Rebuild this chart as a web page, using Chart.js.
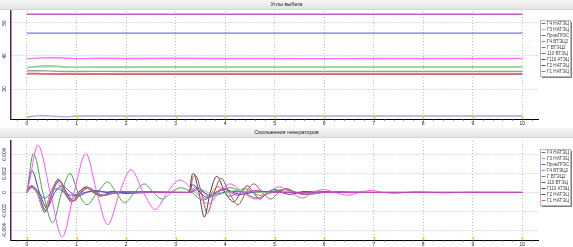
<!DOCTYPE html>
<html lang="ru">
<head>
<meta charset="UTF-8">
<title>Углы выбега / Скольжения генераторов</title>
<script src="https://cdn.jsdelivr.net/npm/chart.js"></script>
<style>
  html, body { margin: 0; padding: 0; background: #fff; }
  body { width: 573px; height: 247px; position: relative; overflow: hidden;
         font-family: "Liberation Sans", Arial, sans-serif; }
  .bar { position: absolute; left: 0; width: 573px; height: 9px;
         background: linear-gradient(#f6f6f6, #e4e4e4); border-bottom: 1px solid #d4d4d4;
         font-size: 5.5px; line-height: 9px; text-align: center; color: #222; }
  .box { position: absolute; left: 0; width: 573px; }
  canvas { display: block; }
</style>
</head>
<body>
<div class="bar" style="top:0">Углы выбега</div>
<div class="box" style="top:9px;height:119px"><canvas id="angles" width="573" height="119"></canvas></div>
<div class="bar" style="top:128px">Скольжения генераторов</div>
<div class="box" style="top:138px;height:109px"><canvas id="slips" width="573" height="109"></canvas></div>

<script>
// ---- data ----
const seriesNames  = ['Г4 НАТЭЦ', 'Г3 НАТЭЦ', 'ПримГРЭС', 'Г4 ВТЭЦ2', 'Г ВТЭЦ2', '110 ВТЭЦ', 'Г110 АТЭЦ', 'Г2 НАТЭЦ', 'Г1 НАТЭЦ'];
const seriesColors = ['#c040c0', '#78d878', '#5858e0', '#ff50ff', '#40a840', '#b84848', '#404040', '#3c3cb8', '#ff5a5a'];
// the angle plot draws the same series in lighter tones
const angleColors  = ['#c45ac4', '#98dc98', '#7474ec', '#ff72ff', '#7cbc7c', '#d06a6a', '#9c9c9c', '#a8a8dc', '#e07474'];

const xTicks = [0, 1, 2, 3, 4, 5, 6, 7, 8, 9, 10];
const yTicksAngle = [30, 40, 50];
const yTicksSlip  = [-0.004, -0.002, 0, 0.002, 0.004];
const ySlipLabels = ['-0.004', '-0.002', '0', '0.002', '0.004'];

// rotor angles, deg
const tAngle        = [0, 0.2, 0.4, 0.6, 0.8, 1, 1.5, 2, 3, 4, 5, 6, 7, 8, 9, 10];
const angleG4NATEC  = [52.6, 52.6, 52.6, 52.6, 52.6, 52.6, 52.6, 52.6, 52.6, 52.6, 52.6, 52.6, 52.6, 52.6, 52.6, 52.6];
const angleG3NATEC  = [36.5, 36.7, 36.8, 36.75, 36.65, 36.6, 36.65, 36.65, 36.65, 36.65, 36.65, 36.65, 36.65, 36.65, 36.65, 36.65];
const anglePrimGRES = [46.9, 46.9, 46.9, 46.9, 46.9, 46.9, 46.9, 46.9, 46.9, 46.9, 46.9, 46.9, 46.9, 46.9, 46.9, 46.9];
const angleG4VTEC2  = [39.2, 39.35, 39.45, 39.45, 39.3, 39.2, 39.3, 39.25, 39.3, 39.25, 39.25, 39.2, 39.25, 39.25, 39.25, 39.25];
const angleGVTEC2   = [36.45, 36.85, 37.0, 36.95, 36.6, 36.55, 36.6, 36.6, 36.62, 36.62, 36.62, 36.62, 36.62, 36.62, 36.62, 36.62];
const angle110VTEC  = [34.7, 34.7, 34.6, 34.55, 34.55, 34.55, 34.55, 34.55, 34.55, 34.55, 34.55, 34.55, 34.55, 34.55, 34.55, 34.55];
const angleG110ATEC = [35.55, 35.55, 35.5, 35.35, 35.3, 35.3, 35.35, 35.3, 35.3, 35.3, 35.3, 35.3, 35.3, 35.3, 35.3, 35.3];
const angleG2NATEC  = [21.55, 21.9, 21.95, 21.75, 21.6, 21.85, 21.85, 21.85, 21.85, 21.85, 21.85, 21.85, 21.85, 21.85, 21.85, 21.85];
const angleG1NATEC  = [34.6, 34.6, 34.55, 34.5, 34.5, 34.5, 34.5, 34.5, 34.5, 34.5, 34.5, 34.5, 34.5, 34.5, 34.5, 34.5];

// generator slips, [t, s]
const slipG4NATEC = [[0,0],[0.1,0.0006],[0.22,0],[0.38,-0.0019],[0.52,0],[0.65,0.0013],[0.79,0],[0.93,-0.0009],[1.08,0],[1.23,0.0005],[1.38,0],[1.55,-0.0003],[1.9,0.0001],[2.5,0],[3.3,0],[3.45,0.0005],[3.7,-0.0005],[3.95,0.0004],[4.25,-0.0003],[4.6,0.0002],[5,0],[10,0]];
const slipG3NATEC = [[0,0],[0.09,0.0006],[0.2,0],[0.36,-0.002],[0.5,0],[0.64,0.0013],[0.78,0],[0.92,-0.0009],[1.07,0],[1.22,0.0005],[1.37,0],[1.52,-0.0003],[1.9,0.0001],[2.5,0],[3.3,0],[3.5,0.0003],[3.8,-0.0003],[4.2,0.0002],[4.8,0],[10,0]];
const slipPrimGRES = [[0,0],[0.1,0.0007],[0.35,-0.0006],[0.6,0.0004],[0.9,-0.0003],[1.3,0.0001],[2,0],[3.3,0],[3.45,0.0003],[3.7,-0.0003],[4.1,0.0001],[5,0],[10,0]];
const slipG4VTEC2 = [[0,0],[0.05,0.0012],[0.22,0.005],[0.47,0],[0.71,-0.0047],[0.95,0],[1.19,0.0041],[1.41,0],[1.63,-0.0034],[1.87,0],[2.1,0.0024],[2.35,0],[2.59,-0.0018],[2.83,0],[3.08,0.0013],[3.4,0],[3.66,-0.0012],[3.88,0],[4.1,0.0009],[4.36,0],[4.62,-0.0007],[4.86,0],[5.1,0.0006],[5.33,0],[5.56,-0.0006],[5.77,0],[5.98,0.0003],[6.22,0],[6.47,-0.0003],[6.7,0],[6.95,0.0002],[7.2,0],[7.42,-0.0001],[7.65,0],[7.9,0.0001],[8.4,-0.00005],[8.9,0.00003],[10,0]];
const slipGVTEC2 = [[0,0],[0.13,0.0041],[0.32,0],[0.52,-0.0032],[0.7,0],[0.87,0.002],[1.03,0],[1.21,-0.0013],[1.42,0],[1.63,0.0011],[1.8,0],[1.97,-0.0011],[2.17,0],[2.37,0.0009],[2.55,0],[2.73,-0.0007],[2.92,0],[3.1,0.0005],[3.3,0.0001],[3.55,-0.0008],[3.82,0],[4.1,0.0005],[4.37,0],[4.65,-0.0006],[4.9,0],[5.2,0.0003],[5.45,0],[5.7,-0.0002],[6,0],[6.3,0.0001],[7,0],[10,0]];
const slip110VTEC = [[0,0],[0.08,0.0006],[0.2,0],[0.37,-0.0019],[0.5,0],[0.66,0.0012],[0.8,0],[0.95,-0.0009],[1.1,0],[1.25,0.0005],[1.4,0],[1.55,-0.0003],[1.9,0.0001],[2.5,0],[3.3,0],[3.34,0.0015],[3.4,0.0018],[3.52,0],[3.64,-0.0022],[3.78,0],[3.92,0.0015],[4.08,0],[4.26,-0.0013],[4.42,0],[4.58,0.0009],[4.75,0],[4.92,-0.0007],[5.08,0],[5.25,0.0004],[5.42,0],[5.6,-0.0002],[6,0.0001],[6.5,0],[10,0]];
const slipG110ATEC = [[0,0],[0.08,0.0007],[0.2,0],[0.36,-0.0021],[0.5,0],[0.63,0.0014],[0.77,0],[0.9,-0.001],[1.05,0],[1.2,0.0006],[1.35,0],[1.5,-0.0004],[1.7,0.0001],[2,-0.0001],[2.5,0],[3.28,0],[3.32,0.0016],[3.36,0.002],[3.47,0],[3.58,-0.0026],[3.7,0],[3.83,0.0017],[4,0],[4.17,-0.001],[4.32,0],[4.45,0.0007],[4.57,0],[4.7,-0.0007],[4.85,0],[5,0.0003],[5.15,0],[5.3,-0.0002],[5.6,0.0001],[6,0],[10,0]];
const slipG2NATEC = [[0,0],[0.1,0.0023],[0.25,0],[0.4,-0.0016],[0.56,0],[0.72,0.0007],[0.88,0],[1.02,-0.0004],[1.2,0],[1.4,0.0002],[1.7,-0.0001],[2.2,0.0001],[3.25,0],[3.35,0.0008],[3.5,0],[3.62,-0.0005],[3.8,0],[4,0.0003],[4.3,-0.0002],[4.7,0.0001],[5.5,0],[10,0]];
const slipG1NATEC = [[0,0],[0.08,0.0005],[0.2,0],[0.35,-0.0017],[0.48,0],[0.6,0.0011],[0.74,0],[0.88,-0.0008],[1.03,0],[1.18,0.0005],[1.33,0],[1.5,-0.0003],[1.8,0.0001],[2.3,0],[3.3,0],[3.4,0.0006],[3.6,-0.0007],[3.85,0.0006],[4.1,-0.0004],[4.4,0.0004],[4.7,-0.0003],[5.2,0.0003],[5.6,-0.0002],[6,0.0001],[6.5,0],[10,0]];

const angleValues = [angleG4NATEC, angleG3NATEC, anglePrimGRES, angleG4VTEC2, angleGVTEC2, angle110VTEC, angleG110ATEC, angleG2NATEC, angleG1NATEC];
const slipValues  = [slipG4NATEC, slipG3NATEC, slipPrimGRES, slipG4VTEC2, slipGVTEC2, slip110VTEC, slipG110ATEC, slipG2NATEC, slipG1NATEC];

const FONT = '"Liberation Sans", Arial, sans-serif';

// legend in a small framed box at the right
const boxLegend = {
  id: 'boxLegend',
  afterDraw(chart, args, opts) {
    const ctx = chart.ctx;
    const x = 540, y = opts.top, w = 30, row = 6;
    const h = seriesNames.length * row + 2;
    ctx.save();
    ctx.fillStyle = '#fff';
    ctx.fillRect(x, y, w, h);
    ctx.strokeStyle = '#b8b8b8';
    ctx.lineWidth = 1;
    ctx.strokeRect(x + 0.5, y + 0.5, w, h);
    ctx.strokeStyle = '#808080';
    ctx.beginPath();
    ctx.moveTo(x + w + 1.5, y + 2); ctx.lineTo(x + w + 1.5, y + h + 1.5); ctx.lineTo(x + 2, y + h + 1.5);
    ctx.stroke();
    ctx.font = '4.6px ' + FONT;
    ctx.textBaseline = 'middle';
    seriesNames.forEach((name, i) => {
      const cy = y + 3.5 + row * i;
      ctx.strokeStyle = seriesColors[i];
      ctx.beginPath(); ctx.moveTo(x + 1.5, cy); ctx.lineTo(x + 5.5, cy); ctx.stroke();
      ctx.fillStyle = '#444';
      ctx.fillText(name, x + 7, cy, 22);
    });
    ctx.restore();
  }
};

// rotated y labels + axis tick marks
const axisDecor = {
  id: 'axisDecor',
  afterDraw(chart, args, opts) {
    const ctx = chart.ctx, xs = chart.scales.x, ys = chart.scales.y;
    const bottom = chart.chartArea.bottom;
    ctx.save();
    ctx.font = '5px ' + FONT;
    ctx.fillStyle = '#222';
    ctx.textAlign = 'center';
    ctx.textBaseline = 'middle';
    opts.ticks.forEach((v, i) => {
      ctx.save();
      ctx.translate(4.5, ys.getPixelForValue(v));
      ctx.rotate(-Math.PI / 2);
      ctx.fillText(opts.labels[i], 0, 0);
      ctx.restore();
    });
    // minor ticks below the axis
    ctx.strokeStyle = '#8a8a8a';
    ctx.lineWidth = 0.8;
    for (let k = -1; k <= 51; k++) {
      const px = Math.round(xs.getPixelForValue(k * 0.2)) + 0.5;
      if (px < chart.chartArea.left || px > chart.chartArea.right) continue;
      ctx.beginPath(); ctx.moveTo(px, bottom + 0.5); ctx.lineTo(px, bottom + 2); ctx.stroke();
    }
    // yellow major marks
    ctx.strokeStyle = '#e8d800';
    ctx.lineWidth = 1.5;
    xTicks.forEach(v => {
      const px = Math.round(xs.getPixelForValue(v)) + 0.5;
      ctx.beginPath(); ctx.moveTo(px, bottom - 3); ctx.lineTo(px, bottom); ctx.stroke();
    });
    ctx.restore();
  }
};

function makeChart(id, datasets, yMin, yMax, yTicks, yLabels, padTop, xHeight, tension) {
  return new Chart(document.getElementById(id), {
    type: 'line',
    data: { datasets: datasets },
    options: {
      responsive: false,
      animation: false,
      events: [],
      layout: { padding: { top: padTop, left: 0, right: 35, bottom: 0 } },
      elements: {
        point: { radius: 0 },
        line: { tension: tension, cubicInterpolationMode: tension ? 'monotone' : 'default' }
      },
      scales: {
        x: {
          type: 'linear', min: -0.323, max: 10.317,
          afterBuildTicks: s => { s.ticks = xTicks.map(v => ({ value: v })); },
          afterFit: s => { s.height = xHeight; },
          grid: { color: '#bcbcbc', lineWidth: 1, drawTicks: false },
          border: { color: '#000', width: 1, dash: [1, 2] },
          ticks: { font: { size: 5, family: FONT }, color: '#222', padding: 2, maxRotation: 0, autoSkip: false,
                   callback: v => String(v) }
        },
        y: {
          type: 'linear', min: yMin, max: yMax,
          afterBuildTicks: s => { s.ticks = yTicks.map(v => ({ value: v })); },
          afterFit: s => { s.width = 11; },
          grid: { color: '#bcbcbc', lineWidth: 1, drawTicks: false },
          border: { color: '#5a205a', width: 1.5, dash: [1, 2] },
          ticks: { display: false }
        }
      },
      plugins: {
        legend: { display: false },
        tooltip: { enabled: false },
        boxLegend: { top: 11 },
        axisDecor: { ticks: yTicks, labels: yLabels }
      }
    },
    plugins: [axisDecor, boxLegend]
  });
}

// top: angles
const angleSets = seriesNames.map((name, i) => ({
  label: name,
  data: tAngle.map((t, k) => ({ x: t, y: angleValues[i][k] })),
  borderColor: angleColors[i],
  borderWidth: 1.4,
  fill: false
}));
makeChart('angles', angleSets, 20.95, 53.6, yTicksAngle, yTicksAngle.map(String), 2, 9, 0);

// bottom: slips
const slipSets = seriesNames.map((name, i) => ({
  label: name,
  data: slipValues[i].map(p => ({ x: p[0], y: p[1] })),
  borderColor: seriesColors[i],
  borderWidth: 1,
  fill: false
}));
makeChart('slips', slipSets, -0.00502, 0.00543, yTicksSlip, ySlipLabels, 3, 7, 0.4);
</script>
</body>
</html>
